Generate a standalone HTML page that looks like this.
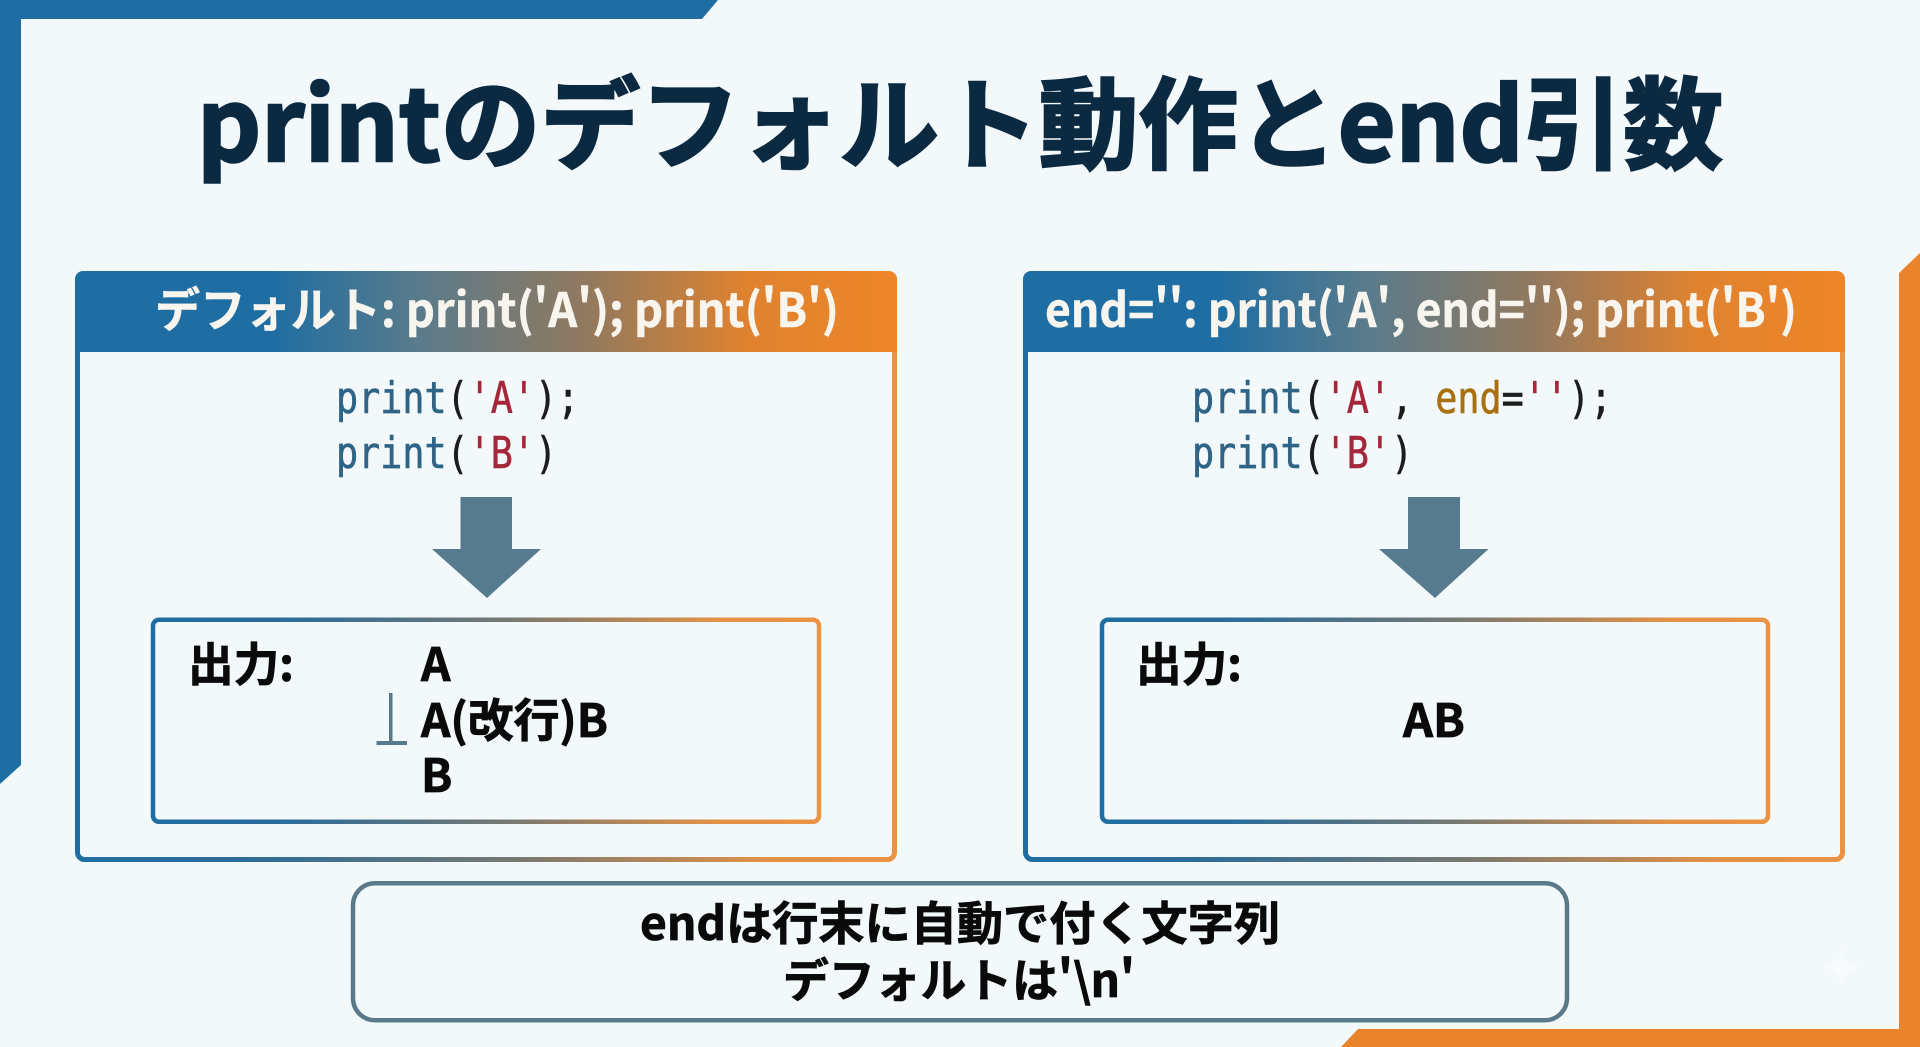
<!DOCTYPE html>
<html lang="ja">
<head>
<meta charset="utf-8">
<style>
html,body{margin:0;padding:0;width:1920px;height:1047px;overflow:hidden;background:#f3f9fb}
svg{display:block}
text{font-family:"Noto Sans CJK JP","Liberation Sans",sans-serif;font-weight:700}
.title{fill:#0b2a42;stroke:#0b2a42;stroke-width:2.500px}
.code{font-family:"DejaVu Sans Mono","Liberation Mono",monospace;font-weight:400;font-size:44px;fill:#1c1c1c;stroke:#1c1c1c;stroke-width:.6px;white-space:pre}
.k{fill:#2f6486;stroke:#2f6486}.s{fill:#a5283a;stroke:#a5283a}.e{fill:#a8700f;stroke:#a8700f}
.hd{fill:#f8f4ee;font-size:47px;stroke:#f8f4ee;stroke-width:.5px}
.out{fill:#0a0a0a;font-size:46px;stroke:#0a0a0a;stroke-width:.8px}
.note{fill:#0a0a0a;font-size:46px;stroke:#0a0a0a;stroke-width:.8px}
</style>
</head>
<body>
<svg width="1920" height="1047" viewBox="0 0 1920 1047" xmlns="http://www.w3.org/2000/svg">
<defs>
<linearGradient id="g" x1="0" y1="0" x2="1" y2="0">
<stop offset="0" stop-color="#1f6ea3"/>
<stop offset=".24" stop-color="#1f6ea3"/>
<stop offset=".42" stop-color="#5a7b8b"/>
<stop offset=".62" stop-color="#91795f"/>
<stop offset=".82" stop-color="#e0822f"/>
<stop offset="1" stop-color="#ee8628"/>
</linearGradient>
<linearGradient id="gb" x1="0" y1="0" x2="1" y2="0">
<stop offset="0" stop-color="#1f6ea3"/>
<stop offset=".2" stop-color="#2a6c9a"/>
<stop offset=".55" stop-color="#7b7a70"/>
<stop offset=".85" stop-color="#e39247"/>
<stop offset="1" stop-color="#ea9345"/>
</linearGradient>
</defs>
<rect width="1920" height="1047" fill="#f3f9fb"/>

<!-- frame corners -->
<polygon points="0,0 718,0 702,19 21,19 21,765 0,784" fill="#1f6ea3"/>
<polygon points="1920,253 1899,273 1899,1029 1358,1029 1341,1047 1920,1047" fill="#ea842c"/>

<!-- title -->
<text class="title" x="197" y="161" font-size="100" textLength="1526" lengthAdjust="spacingAndGlyphs">printのデフォルト動作とend引数</text>

<!-- left panel -->
<rect x="77.500" y="273.500" width="817" height="586" rx="7" fill="none" stroke="url(#gb)" stroke-width="5"/>
<path d="M75 352V279a8 8 0 0 1 8-8H889a8 8 0 0 1 8 8V352Z" fill="url(#g)"/>
<text class="hd" x="155" y="327" textLength="684" lengthAdjust="spacingAndGlyphs">デフォルト: print('A'); print('B')</text>
<g transform="translate(336,413) scale(.835,1)"><text class="code"><tspan class="k">print</tspan>(<tspan class="s">'A'</tspan>);</text></g>
<g transform="translate(336,468) scale(.835,1)"><text class="code"><tspan class="k">print</tspan>(<tspan class="s">'B'</tspan>)</text></g>
<polygon points="460.500,497 512,497 512,549 541,549 487,598 432,549 460.500,549" fill="#567a8e"/>
<rect x="153" y="619.750" width="666" height="202" rx="6" fill="none" stroke="url(#gb)" stroke-width="4.500"/>
<text class="out" x="188" y="681" textLength="106" lengthAdjust="spacingAndGlyphs">出力:</text>
<text class="out" x="421" y="681">A</text>
<text class="out" x="421" y="737" textLength="187" lengthAdjust="spacingAndGlyphs">A(改行)B</text>
<text class="out" x="421" y="792">B</text>
<rect x="389" y="693" width="3.500" height="49" fill="#567a8e"/>
<rect x="376.500" y="741" width="30.500" height="4" fill="#567a8e"/>

<!-- right panel -->
<rect x="1025.500" y="273.500" width="817" height="586" rx="7" fill="none" stroke="url(#gb)" stroke-width="5"/>
<path d="M1023 352V279a8 8 0 0 1 8-8H1837a8 8 0 0 1 8 8V352Z" fill="url(#g)"/>
<text class="hd" x="1045" y="327" textLength="752" lengthAdjust="spacingAndGlyphs">end='': print('A', end=''); print('B')</text>
<g transform="translate(1192,413) scale(.835,1)"><text class="code"><tspan class="k">print</tspan>(<tspan class="s">'A'</tspan>, <tspan class="e">end</tspan>=<tspan class="s">''</tspan>);</text></g>
<g transform="translate(1192,468) scale(.835,1)"><text class="code"><tspan class="k">print</tspan>(<tspan class="s">'B'</tspan>)</text></g>
<polygon points="1408,497 1460,497 1460,549 1488.500,549 1435,598 1379,549 1408,549" fill="#567a8e"/>
<rect x="1102" y="619.750" width="666" height="202" rx="6" fill="none" stroke="url(#gb)" stroke-width="4.500"/>
<text class="out" x="1136" y="681" textLength="106" lengthAdjust="spacingAndGlyphs">出力:</text>
<text class="out" x="1403" y="737" textLength="62" lengthAdjust="spacingAndGlyphs">AB</text>

<!-- note -->
<rect x="353" y="883.250" width="1214" height="137" rx="22" fill="none" stroke="#5a7a8c" stroke-width="4.500"/>
<text class="note" x="640" y="940" textLength="640" lengthAdjust="spacingAndGlyphs">endは行末に自動で付く文字列</text>
<text class="note" x="783" y="997" textLength="352" lengthAdjust="spacingAndGlyphs">デフォルトは'\n'</text>

<!-- faint sparkle -->
<path d="M1842 948Q1845 964 1860 967Q1845 970 1842 986Q1839 970 1824 967Q1839 964 1842 948Z" fill="#ffffff" opacity=".3"/>
</svg>
</body>
</html>
